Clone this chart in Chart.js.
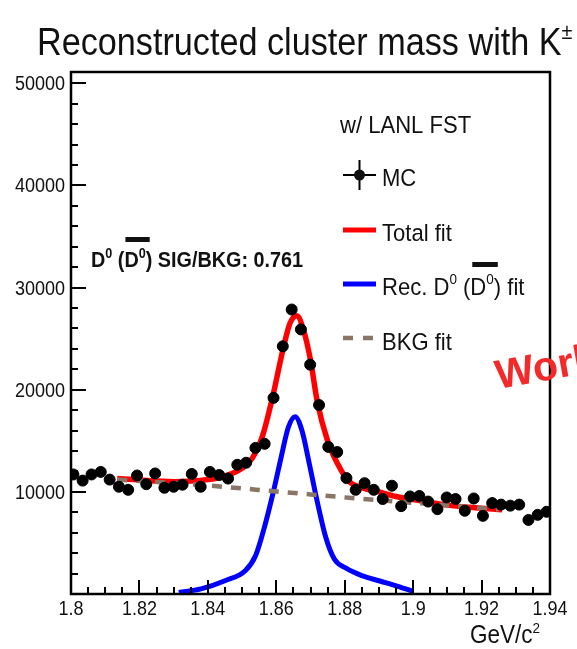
<!DOCTYPE html>
<html>
<head>
<meta charset="utf-8">
<script src="https://cdn.jsdelivr.net/npm/chart.js@4.4.1/dist/chart.umd.min.js"></script>
<style>
    html, body { margin: 0; padding: 0; background: #fff; }
    #wrap { width: 577px; height: 649px; }
</style>
</head>
<body>
<div id="wrap"><canvas id="massChart" width="577" height="649"></canvas></div>
<script>
// MC histogram: bin centres (GeV/c^2) and entries
const mcMass = [
    1.8007, 1.8034, 1.8060, 1.8087, 1.8113, 1.8140, 1.8167, 1.8193, 1.8220, 1.8246,
    1.8273, 1.8300, 1.8326, 1.8353, 1.8379, 1.8406, 1.8433, 1.8459, 1.8486, 1.8512,
    1.8539, 1.8566, 1.8592, 1.8619, 1.8645, 1.8672, 1.8699, 1.8725, 1.8752, 1.8778,
    1.8805, 1.8832, 1.8858, 1.8885, 1.8911, 1.8938, 1.8965, 1.8991, 1.9018, 1.9044,
    1.9071, 1.9098, 1.9124, 1.9151, 1.9177, 1.9204, 1.9231, 1.9257, 1.9284, 1.9310,
    1.9337, 1.9364, 1.9390
];
const mcCounts = [
    11700, 11100, 11700, 11950, 11200, 10500, 10200, 11600, 10750, 11800,
    10400, 10500, 10700, 11750, 10500, 11950, 11650, 11300, 12650, 12850,
    14300, 14700, 19200, 24250, 27850, 25900, 22450, 18500, 14400, 13900,
    11350, 10200, 10850, 10200, 9300, 10600, 8600, 9550, 9600, 9050,
    8300, 9450, 9300, 8150, 9350, 7650, 8900, 8750, 8650, 8750,
    7250, 7750, 8050
];

// total fit (signal + background)
const totalMass = [1.8135, 1.82, 1.83, 1.84, 1.845, 1.85, 1.853, 1.856, 1.859, 1.862, 1.864, 1.866,
    1.868, 1.870, 1.872, 1.875, 1.878, 1.881, 1.885, 1.89, 1.895, 1.90, 1.91, 1.92, 1.926];
const totalFit = [11300, 11150, 11000, 11200, 11550, 12300, 13300, 15500, 19400, 24000, 26500, 27250,
    25800, 22900, 18800, 15000, 12700, 11100, 10400, 10000, 9550, 9250, 8700, 8400, 8250];

// D0 signal component
const sigMass = [1.8315, 1.838, 1.845, 1.851, 1.854, 1.8565, 1.859, 1.8615, 1.8635, 1.8655,
    1.8675, 1.8695, 1.872, 1.8745, 1.877, 1.8805, 1.885, 1.8905, 1.8955, 1.9];
const sigFit = [150, 500, 1300, 2300, 3800, 6500, 9800, 13500, 16300, 17350,
    16000, 13000, 9000, 5500, 3400, 2500, 1800, 1250, 750, 250];

// background component
const bkgMass = [1.8135, 1.826, 1.837, 1.846, 1.858, 1.870, 1.882, 1.894, 1.905, 1.915, 1.925];
const bkgFit = [11200, 10950, 10700, 10450, 10100, 9750, 9400, 9080, 8800, 8550, 8280];

// axis ticks
const xMajorTicks = [1.80, 1.82, 1.84, 1.86, 1.88, 1.90, 1.92, 1.94];
const xTickLabels = ["1.8", "1.82", "1.84", "1.86", "1.88", "1.9", "1.92", "1.94"];
const yMajorTicks = [10000, 20000, 30000, 40000, 50000];
const yTickLabels = ["10000", "20000", "30000", "40000", "50000"];

const FONT = "'Liberation Sans', Arial, sans-serif";
const SX = 0.9; // narrow text

function toPoints(xs, ys) {
    return xs.map((x, i) => ({ x: x, y: ys[i] }));
}

// draws a run of text pieces, returns their [start, end] x positions
function drawParts(ctx, parts, x, y) {
    const spans = [];
    ctx.save();
    ctx.translate(x, y);
    ctx.scale(SX, 1);
    ctx.textAlign = "left";
    ctx.textBaseline = "alphabetic";
    let cx = 0;
    for (const p of parts) {
        ctx.font = p.font;
        ctx.fillText(p.text, cx, p.dy || 0);
        const w = ctx.measureText(p.text).width;
        spans.push([x + cx * SX, x + (cx + w) * SX]);
        cx += w;
    }
    ctx.restore();
    return spans;
}

function drawText(ctx, text, x, y, font, align) {
    ctx.save();
    ctx.translate(x, y);
    ctx.scale(SX, 1);
    ctx.font = font;
    ctx.textAlign = align || "left";
    ctx.fillText(text, 0, 0);
    ctx.restore();
}

const framePlugin = {
    id: "frame",
    afterDatasetsDraw(chart) {
        const ctx = chart.ctx;
        const a = chart.chartArea;
        const xs = chart.scales.x;
        const ys = chart.scales.y;
        ctx.save();
        ctx.fillStyle = "#000";
        ctx.strokeStyle = "#000";

        // box
        ctx.lineWidth = 2.5;
        ctx.strokeRect(a.left, a.top, a.right - a.left, a.bottom - a.top);

        // inward ticks
        ctx.lineWidth = 2;
        ctx.beginPath();
        for (let v = 0; v <= 50000; v += 2000) {
            const py = Math.round(ys.getPixelForValue(v));
            const len = v % 10000 === 0 ? 15 : 7;
            ctx.moveTo(a.left, py);
            ctx.lineTo(a.left + len, py);
        }
        for (let k = 0; k <= 28; k++) {
            const px = Math.round(xs.getPixelForValue(1.8 + k * 0.005));
            const len = k % 4 === 0 ? 14 : 7;
            ctx.moveTo(px, a.bottom);
            ctx.lineTo(px, a.bottom - len);
        }
        ctx.stroke();

        // tick labels
        ctx.fillStyle = "#111";
        yMajorTicks.forEach((v, i) => {
            drawText(ctx, yTickLabels[i], 65, ys.getPixelForValue(v) + 7, "20px " + FONT, "right");
        });
        xMajorTicks.forEach((v, i) => {
            drawText(ctx, xTickLabels[i], xs.getPixelForValue(v), 615, "20px " + FONT, "center");
        });

        // axis unit
        drawParts(ctx, [
            { text: "GeV/c", font: "25px " + FONT },
            { text: "2", font: "15px " + FONT, dy: -10 }
        ], 470, 643);

        // title
        drawParts(ctx, [
            { text: "Reconstructed cluster mass with K", font: "38px " + FONT },
            { text: "\u00b1", font: "22px " + FONT, dy: -16 }
        ], 37, 55);

        // signal over background
        const bold = "bold 22px " + FONT;
        const boldSup = "bold 14px " + FONT;
        const ann = drawParts(ctx, [
            { text: "D", font: bold },
            { text: "0", font: boldSup, dy: -9 },
            { text: " (", font: bold },
            { text: "D", font: bold },
            { text: "0", font: boldSup, dy: -9 },
            { text: ") SIG/BKG: 0.761", font: bold }
        ], 91, 267);
        ctx.fillRect(ann[3][0] + 1, 237, ann[4][1] + 4 - ann[3][0] - 1, 5);

        // legend
        const reg = "24.5px " + FONT;
        const sup = "15px " + FONT;
        drawText(ctx, "w/ LANL FST", 340, 133, reg);

        ctx.lineWidth = 2;
        ctx.beginPath();
        ctx.moveTo(343, 175); ctx.lineTo(376, 175);
        ctx.moveTo(359.5, 160); ctx.lineTo(359.5, 190);
        ctx.stroke();
        ctx.beginPath();
        ctx.arc(359.5, 175, 5.5, 0, Math.PI * 2);
        ctx.fill();
        drawText(ctx, "MC", 382, 186, reg);

        ctx.lineWidth = 5;
        ctx.strokeStyle = "#ff0000";
        ctx.beginPath(); ctx.moveTo(343, 230); ctx.lineTo(376, 230); ctx.stroke();
        drawText(ctx, "Total fit", 382, 241, reg);

        ctx.strokeStyle = "#0000ff";
        ctx.beginPath(); ctx.moveTo(343, 284); ctx.lineTo(376, 284); ctx.stroke();
        const rec = drawParts(ctx, [
            { text: "Rec. D", font: reg },
            { text: "0", font: sup, dy: -11 },
            { text: " (D", font: reg },
            { text: "0", font: sup, dy: -11 },
            { text: ") fit", font: reg }
        ], 382, 295);
        ctx.fillRect(rec[2][1] - 14, 262, rec[3][1] + 4 - (rec[2][1] - 14), 5);

        ctx.strokeStyle = "#8a7567";
        ctx.lineWidth = 4.5;
        ctx.setLineDash([10, 10]);
        ctx.beginPath(); ctx.moveTo(343, 338); ctx.lineTo(376, 338); ctx.stroke();
        ctx.setLineDash([]);
        drawText(ctx, "BKG fit", 382, 350, reg);

        // stamp at the right edge
        ctx.save();
        ctx.translate(498, 389);
        ctx.rotate(-0.18);
        ctx.font = "bold 41px " + FONT;
        ctx.fillStyle = "#f42a2a";
        ctx.fillText("Work", 0, 0);
        ctx.restore();

        ctx.restore();
    }
};

new Chart(document.getElementById("massChart"), {
    type: "scatter",
    data: {
        datasets: [
            {
                label: "MC",
                data: toPoints(mcMass, mcCounts),
                backgroundColor: "#000",
                borderColor: "#000",
                borderWidth: 1,
                pointRadius: 5.5,
                showLine: false
            },
            {
                label: "BKG fit",
                data: toPoints(bkgMass, bkgFit),
                borderColor: "#8a7567",
                borderWidth: 4.5,
                borderDash: [10, 9],
                pointRadius: 0,
                showLine: true,
                cubicInterpolationMode: "monotone"
            },
            {
                label: "Rec. D0 fit",
                data: toPoints(sigMass, sigFit),
                borderColor: "#0000ff",
                borderWidth: 5,
                pointRadius: 0,
                showLine: true,
                cubicInterpolationMode: "monotone"
            },
            {
                label: "Total fit",
                data: toPoints(totalMass, totalFit),
                borderColor: "#ff0000",
                borderWidth: 5.5,
                pointRadius: 0,
                showLine: true,
                cubicInterpolationMode: "monotone"
            }
        ]
    },
    options: {
        responsive: false,
        animation: false,
        devicePixelRatio: 1,
        layout: { padding: { left: 71, right: 27, top: 72, bottom: 55 } },
        plugins: { legend: { display: false }, tooltip: { enabled: false } },
        scales: {
            x: { type: "linear", min: 1.8, max: 1.94, display: false },
            y: { min: 0, max: 51100, display: false }
        }
    },
    plugins: [framePlugin]
});
</script>
</body>
</html>
